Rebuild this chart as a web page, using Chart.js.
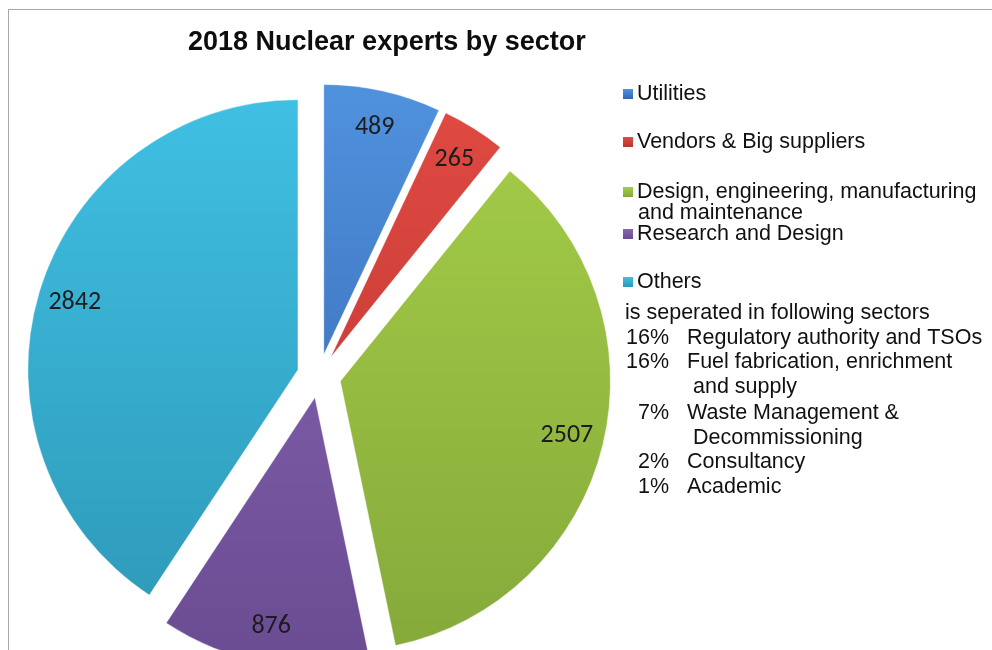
<!DOCTYPE html>
<html>
<head>
<meta charset="utf-8">
<title>2018 Nuclear experts by sector</title>
<script src="https://cdn.jsdelivr.net/npm/chart.js@4.4.1/dist/chart.umd.min.js"></script>
<style>
    html, body { margin: 0; padding: 0; background: #fff; }
    #wrap { position: relative; width: 992px; height: 650px; overflow: hidden; background: #fff; }
    #frame { position: absolute; left: 8px; top: 9px; width: 1100px; height: 800px; border: 1px solid #a9a9a9; }
    #pie { position: absolute; left: 0; top: 0; }
</style>
</head>
<body>
<div id="wrap">
    <div id="frame"></div>
    <canvas id="pie" width="992" height="760"></canvas>
</div>
<script>
// ---- data ----
const sectors = ["Utilities", "Vendors & Big suppliers", "Design, engineering, manufacturing\nand maintenance", "Research and Design", "Others"];
const experts = [489, 265, 2507, 876, 2842];
// light (top) and dark (bottom) shade of every slice
const sliceTop = ["#5193e0", "#e24b43", "#a6cf48", "#8a66b5", "#40c1e4"];
const sliceBottom = ["#3464aa", "#b8342f", "#84a83a", "#694b91", "#2d97b6"];

const othersShares = ["16%", "16%", "7%", "2%", "1%"];
const othersSectors = ["Regulatory authority and TSOs", "Fuel fabrication, enrichment\n and supply", "Waste Management &\n Decommissioning", "Consultancy", "Academic"];

const EXPLODE = 22;     // px every slice is pulled out of the centre
const RADIUS = 270;

// arc that is drawn pulled out along its middle angle, keeping the same radius
class ExplodedArc extends Chart.ArcElement {
    draw(ctx) {
        const mid = (this.startAngle + this.endAngle) / 2;
        ctx.save();
        ctx.translate(Math.cos(mid) * EXPLODE, Math.sin(mid) * EXPLODE);
        super.draw(ctx);
        ctx.restore();
    }
}
ExplodedArc.id = "explodedArc";

class ExplodedPieController extends Chart.PieController {}
ExplodedPieController.id = "explodedPie";
ExplodedPieController.defaults = { dataElementType: "explodedArc" };

Chart.register(ExplodedArc, ExplodedPieController);

function shade(ctx, i) {
    const chart = ctx.chart;
    const area = chart.chartArea;
    if (!area) return sliceTop[i];
    const cy = (area.top + area.bottom) / 2;
    const g = chart.ctx.createLinearGradient(0, cy - RADIUS - EXPLODE, 0, cy + RADIUS + EXPLODE);
    g.addColorStop(0, sliceTop[i]);
    g.addColorStop(1, sliceBottom[i]);
    return g;
}

// value labels near the outer edge of each slice
const valueLabels = {
    id: "valueLabels",
    afterDatasetsDraw(chart) {
        const ctx = chart.ctx;
        const meta = chart.getDatasetMeta(0);
        ctx.save();
        ctx.font = "26px Carlito, Lato, sans-serif";
        ctx.fillStyle = "#1c1c1c";
        ctx.textAlign = "center";
        ctx.textBaseline = "middle";
        meta.data.forEach((arc, i) => {
            const mid = (arc.startAngle + arc.endAngle) / 2;
            const r = EXPLODE + arc.outerRadius - 37;
            ctx.fillText(String(experts[i]), arc.x + Math.cos(mid) * r, arc.y + Math.sin(mid) * r);
        });
        ctx.restore();
    }
};

// title, legend and the breakdown of "Others"
const sideText = {
    id: "sideText",
    afterDraw(chart) {
        const ctx = chart.ctx;
        ctx.save();

        // title
        const title = "2018 Nuclear experts by sector";
        ctx.font = "bold 27px 'Liberation Sans Narrow', 'Liberation Sans', Arial, sans-serif";
        ctx.fillStyle = "#0d0d0d";
        ctx.textBaseline = "alphabetic";
        const tw = ctx.measureText(title).width;
        const sx = Math.min(1, 398 / tw);
        ctx.save();
        ctx.translate(188, 50);
        ctx.scale(sx, 1);
        ctx.fillText(title, 0, 0);
        ctx.restore();

        // legend
        ctx.font = "21.5px 'Liberation Sans', Arial, sans-serif";
        ctx.textBaseline = "middle";
        ctx.fillStyle = "#111";
        const rowY = [94, 142, 192, 234, 282];
        sectors.forEach((name, i) => {
            const y = rowY[i];
            const g = ctx.createLinearGradient(0, y - 5, 0, y + 5);
            g.addColorStop(0, sliceTop[i]);
            g.addColorStop(1, sliceBottom[i]);
            ctx.fillStyle = g;
            ctx.fillRect(623, y - 5, 10, 10);
            ctx.fillStyle = "#111";
            name.split("\n").forEach((line, k) => {
                ctx.fillText(line, k === 0 ? 637 : 638, y + k * 21);
            });
        });

        // others breakdown
        ctx.fillText("is seperated in following sectors", 625, 313);
        const noteY = [338, 362, 413, 462, 487];
        othersSectors.forEach((name, i) => {
            const y = noteY[i];
            ctx.textAlign = "right";
            ctx.fillText(othersShares[i], 669, y);
            ctx.textAlign = "left";
            name.split("\n").forEach((line, k) => {
                ctx.fillText(line, 687, y + k * 25);
            });
        });
        ctx.restore();
    }
};

new Chart(document.getElementById("pie").getContext("2d"), {
    type: "explodedPie",
    data: {
        labels: sectors,
        datasets: [{
            data: experts,
            backgroundColor: ctx => shade(ctx, ctx.dataIndex),
            borderColor: "rgba(255,255,255,0.35)",
            borderWidth: 1,
            radius: RADIUS
        }]
    },
    options: {
        responsive: false,
        animation: false,
        layout: { padding: { left: 20, right: 374, top: 100, bottom: 108 } },
        plugins: {
            legend: { display: false },
            tooltip: { enabled: false }
        }
    },
    plugins: [valueLabels, sideText]
});
</script>
</body>
</html>
